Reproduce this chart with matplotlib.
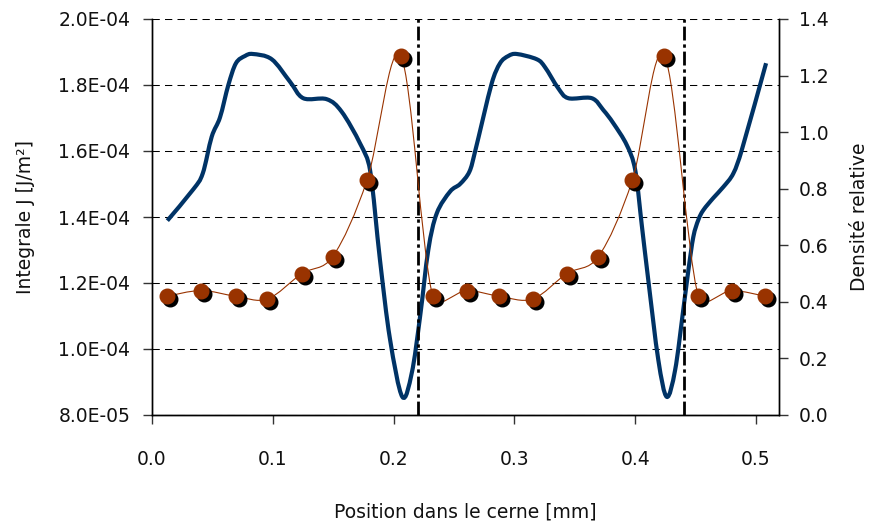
import numpy as np
import matplotlib
matplotlib.use("Agg")
import matplotlib.pyplot as plt
from matplotlib.path import Path
from matplotlib.patches import PathPatch
from matplotlib.ticker import FuncFormatter
import matplotlib.transforms as mtransforms

# ---- data ----
pos_J = [0.0127, 0.0342, 0.0420, 0.0494, 0.0563, 0.0632, 0.0695, 0.0770, 0.0834,
         0.0991, 0.1142, 0.1252, 0.1446, 0.1570, 0.1722, 0.1805, 0.1887,
         0.1970, 0.2072, 0.2150, 0.2219, 0.2287, 0.2357, 0.2467, 0.2550, 0.2627,
         0.2674, 0.2812, 0.2881, 0.2950, 0.3019, 0.3185, 0.3253, 0.3363, 0.3446,
         0.3640, 0.3736, 0.3819, 0.3930, 0.4000, 0.4054, 0.4108, 0.4191, 0.4261,
         0.4330, 0.4398, 0.4440, 0.4481, 0.4522, 0.4564, 0.4647, 0.4729, 0.4812,
         0.4882, 0.5083]
J_values = [1.389e-4, 1.484e-4, 1.532e-4, 1.643e-4, 1.702e-4, 1.800e-4, 1.866e-4,
            1.888e-4, 1.894e-4, 1.878e-4, 1.810e-4, 1.760e-4, 1.757e-4, 1.719e-4,
            1.623e-4, 1.542e-4, 1.270e-4, 1.030e-4, 0.855e-4, 0.927e-4,
            1.098e-4, 1.300e-4, 1.411e-4, 1.477e-4, 1.500e-4, 1.537e-4, 1.598e-4,
            1.805e-4, 1.866e-4, 1.888e-4, 1.894e-4, 1.878e-4, 1.854e-4, 1.790e-4,
            1.760e-4, 1.760e-4, 1.724e-4, 1.684e-4, 1.618e-4, 1.542e-4, 1.376e-4,
            1.209e-4, 0.967e-4, 0.855e-4, 0.936e-4, 1.120e-4, 1.239e-4, 1.340e-4,
            1.391e-4, 1.421e-4, 1.458e-4, 1.491e-4, 1.532e-4, 1.603e-4, 1.866e-4]

pos_dens = [0.0127, 0.0406, 0.0693, 0.0955, 0.1240, 0.1496, 0.1780, 0.2059,
            0.2324, 0.2605, 0.2873, 0.3151, 0.3433, 0.3695, 0.3976, 0.4241,
            0.4522, 0.4799, 0.5075]
density = [0.42, 0.44, 0.42, 0.41, 0.50, 0.56, 0.83, 1.27,
           0.42, 0.44, 0.42, 0.41, 0.50, 0.56, 0.83, 1.27,
           0.42, 0.44, 0.42]

ring_limits = [0.22, 0.44]

xticks = [0.0, 0.1, 0.2, 0.3, 0.4, 0.5]
J_ticks = [8.0e-5, 1.0e-4, 1.2e-4, 1.4e-4, 1.6e-4, 1.8e-4, 2.0e-4]
dens_ticks = [0.0, 0.2, 0.4, 0.6, 0.8, 1.0, 1.2, 1.4]

xlabel = "Position dans le cerne [mm]"
ylabel_left = "Integrale J [J/m²]"
ylabel_right = "Densité relative"

# ---- style ----
BLUE = "#003366"
ORANGE = "#993300"
FS = 13.5
plt.rcParams["font.family"] = ["DejaVu Sans"]


def smooth_path(a, x, y):
    """Spreadsheet-style smoothed (Bezier) line through the data points,
    built in screen space, control arms limited to half the segment."""
    P = a.transData.transform(np.column_stack([np.asarray(x, float),
                                               np.asarray(y, float)]))
    n = len(P)
    verts = [P[0]]
    codes = [Path.MOVETO]
    for i in range(n - 1):
        p0 = P[i - 1] if i > 0 else P[i]
        p1 = P[i]
        p2 = P[i + 1]
        p3 = P[i + 2] if i + 2 < n else P[i + 1]
        L = np.linalg.norm(p2 - p1)
        v = (p2 - p0) / 6.0
        w = (p3 - p1) / 6.0
        nv, nw = np.linalg.norm(v), np.linalg.norm(w)
        if nv > L / 2 and nv > 0:
            v *= (L / 2) / nv
        if nw > L / 2 and nw > 0:
            w *= (L / 2) / nw
        verts += [p1 + v, p2 - w, p2]
        codes += [Path.CURVE4] * 3
    V = a.transData.inverted().transform(np.array(verts))
    return Path(V, codes)


fig = plt.figure(figsize=(8.71, 5.29), dpi=100)
ax = fig.add_axes([152 / 871, 1 - 415 / 529, (779 - 152) / 871, (415 - 19) / 529])
ax2 = ax.twinx()

ax.set_xlim(0, 0.519)
ax.set_ylim(8.0e-5, 2.0e-4)
ax2.set_ylim(0, 1.4)

# grid
ax.set_yticks(J_ticks)
ax.yaxis.grid(True, color="black", linewidth=0.75, linestyle=(0, (7, 5)))
ax.set_axisbelow(True)

# J line (smoothed)
ax.add_patch(PathPatch(smooth_path(ax, pos_J, J_values), fill=False,
                       edgecolor=BLUE, linewidth=3.0, capstyle="butt",
                       joinstyle="round", zorder=3))

# ring boundaries
for xb in ring_limits:
    ax.axvline(xb, color="black", linewidth=2.0,
               linestyle=(0, (5, 1.4, 1.2, 1.4)), zorder=4)

# density: smoothed thin line + shadowed markers
ax2.add_patch(PathPatch(smooth_path(ax2, pos_dens, density), fill=False,
                        edgecolor=ORANGE, linewidth=0.8, zorder=2))
shadow = ax2.transData + mtransforms.ScaledTranslation(3 / 100, -3 / 100,
                                                       fig.dpi_scale_trans)
ax2.plot(pos_dens, density, linestyle="none", marker="o", markersize=10.5,
         color="black", transform=shadow, zorder=3)
ax2.plot(pos_dens, density, linestyle="none", marker="o", markersize=10.5,
         markerfacecolor=ORANGE, markeredgecolor=ORANGE, zorder=4)

# ticks
ax.set_xticks(xticks)
ax.xaxis.set_major_formatter(FuncFormatter(lambda v, p: f"{v:.1f}"))
ax.yaxis.set_major_formatter(FuncFormatter(lambda v, p: f"{v:.1E}"))
ax2.set_yticks(dens_ticks)
ax2.yaxis.set_major_formatter(FuncFormatter(lambda v, p: f"{v:.1f}"))

for a in (ax, ax2):
    a.tick_params(direction="out", length=6.5, width=1, color="#333333",
                  labelsize=FS, labelcolor="#111111")
ax.tick_params(axis="x", pad=19)
ax.tick_params(axis="y", pad=9)
ax2.tick_params(axis="y", pad=8)

for a in (ax, ax2):
    a.spines["top"].set_visible(False)
    for s in ("left", "right", "bottom"):
        a.spines[s].set_color("black")
        a.spines[s].set_linewidth(1.0)

ax.set_xlabel(xlabel, fontsize=FS, color="#111111", labelpad=24)
ax.set_ylabel(ylabel_left, fontsize=FS, color="#111111", labelpad=17)
ax2.set_ylabel(ylabel_right, fontsize=FS, color="#111111", labelpad=15)

fig.savefig("out.png", dpi=100)
